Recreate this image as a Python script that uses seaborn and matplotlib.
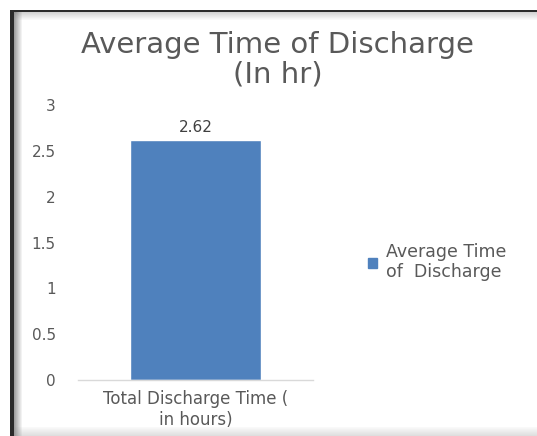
import matplotlib
matplotlib.use("Agg")
import matplotlib.pyplot as plt
from matplotlib.patches import Rectangle
import pandas as pd
import seaborn as sns

# data
categories = ["Total Discharge Time (\nin hours)"]
values = [2.62]
series_name = "Average Time\nof  Discharge"
y_ticks = [0, 0.5, 1, 1.5, 2, 2.5, 3]

df = pd.DataFrame({"category": categories, "value": values})

sns.set_style("white")
plt.rcParams["font.family"] = ["DejaVu Sans"]

txt = "#595959"
bar_color = "#4F81BD"
W, H = 537, 436

fig = plt.figure(figsize=(5.37, 4.36), dpi=100)
ax = fig.add_axes([78 / W, 1 - 380 / H, (313 - 78) / W, (380 - 105) / H])

sns.barplot(data=df, x="category", y="value", color=bar_color, width=0.56,
            saturation=1, ax=ax)

ax.set_ylim(0, 3)
ax.set_yticks(y_ticks)
ax.set_yticklabels([f"{t:g}" for t in y_ticks])
ax.tick_params(axis="y", length=0, colors=txt, labelsize=11, pad=16)
ax.tick_params(axis="x", length=0, colors=txt, labelsize=12, pad=7)
ax.set_xlabel("")
ax.set_ylabel("")
for side in ["top", "right", "left"]:
    ax.spines[side].set_visible(False)
ax.spines["bottom"].set_color("#D9D9D9")
ax.spines["bottom"].set_linewidth(1)

for p, v in zip(ax.patches, values):
    ax.text(p.get_x() + p.get_width() / 2, v + 0.05, f"{v:.2f}",
            ha="center", va="bottom", fontsize=11, color="#404040")

fig.text(0.517, 1 - 45 / H, "Average Time of Discharge", ha="center", va="center",
         fontsize=21, color=txt)
fig.text(0.517, 1 - 74 / H, "(In hr)", ha="center", va="center",
         fontsize=21, color=txt)

# legend
handle = plt.Rectangle((0, 0), 1, 1, color=bar_color)
fig.legend([handle], [series_name], loc="center left",
           bbox_to_anchor=(352 / W, 1 - 262 / H), frameon=False,
           fontsize=12.5, labelcolor=txt, handlelength=0.55, handleheight=0.55,
           handletextpad=0.5, labelspacing=0.3)


# outer frame: dark top/left edges with soft shading inside
def frame_rect(x0, y0, x1, y1, color, alpha=1.0):
    fig.add_artist(Rectangle((x0 / W, 1 - y1 / H), (x1 - x0) / W, (y1 - y0) / H,
                             transform=fig.transFigure, facecolor=color,
                             edgecolor="none", alpha=alpha))


for i in range(8):
    frame_rect(14 + i, 12, 15 + i, H, "#505050", 0.55 * (1 - i / 8))
    frame_rect(14, 12 + i, W, 13 + i, "#808080", 0.35 * (1 - i / 8))
for i in range(9):
    frame_rect(14, H - 9 + i, W, H - 8 + i, "#909090", 0.05 + 0.03 * i)
frame_rect(10, 10, W, 12, "#2a2a2a")
frame_rect(10, 10, 14, H, "#2a2a2a")

fig.savefig("out.png", dpi=100)
